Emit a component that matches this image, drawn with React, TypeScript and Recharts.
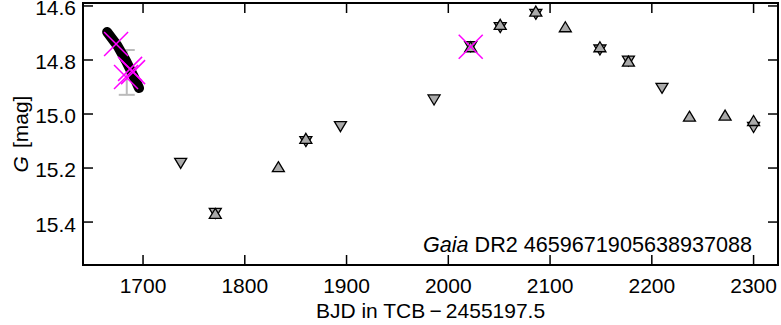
import { ScatterChart, Scatter, XAxis, YAxis, ErrorBar, ReferenceArea, Customized } from "recharts";

// BJD (TCB - 2455197.5) and G magnitude
const xTicks = [1700, 1800, 1900, 2000, 2100, 2200, 2300];
const yTicks = [14.6, 14.8, 15.0, 15.2, 15.4];

const downTriangles = [
  { t: 1737, g: 15.183 },
  { t: 1771, g: 15.368 },
  { t: 1860, g: 15.102 },
  { t: 1894, g: 15.047 },
  { t: 1986, g: 14.948 },
  { t: 2022, g: 14.751 },
  { t: 2051, g: 14.68 },
  { t: 2086, g: 14.631 },
  { t: 2149, g: 14.763 },
  { t: 2177, g: 14.804 },
  { t: 2210, g: 14.905 },
  { t: 2300, g: 15.05 },
];

const upTriangles = [
  { t: 1771, g: 15.368 },
  { t: 1833, g: 15.195 },
  { t: 1860, g: 15.09 },
  { t: 2022, g: 14.751 },
  { t: 2051, g: 14.668 },
  { t: 2086, g: 14.619 },
  { t: 2115, g: 14.677 },
  { t: 2149, g: 14.751 },
  { t: 2177, g: 14.804 },
  { t: 2237, g: 15.008 },
  { t: 2272, g: 15.004 },
  { t: 2300, g: 15.024 },
];

// dense epoch photometry at the start, drawn as a thick band
const epochBand = [
  { t: 1664.7, g: 14.696 },
  { t: 1674.5, g: 14.745 },
  { t: 1683.3, g: 14.804 },
  { t: 1690.2, g: 14.856 },
  { t: 1696.1, g: 14.904 },
];

const rejected = [
  { t: 1673.5, g: 14.741 },
  { t: 1687.3, g: 14.833 },
  { t: 1690.2, g: 14.845 },
  { t: 1683.3, g: 14.863 },
  { t: 2022, g: 14.751 },
];

const meanPoint = [{ t: 1684, g: 14.846, err: 0.083 }];

const xDomain = [1641, 2324];
const yDomain = [14.589, 15.559];
const FONT = 21;

// plot box (chart layout, not data)
const PLOT_TOP = 3;
const PLOT_BOTTOM = 265;
const PLOT_LEFT = 83;
const PLOT_RIGHT = 778;
const TICK = 10;

const TriUp = ({ cx, cy }: any) => (
  <path
    d={`M${cx},${cy - 5} L${cx + 6},${cy + 5} L${cx - 6},${cy + 5} Z`}
    fill="#aaaaaa"
    stroke="#000"
    strokeWidth={1.3}
  />
);

const TriDown = ({ cx, cy }: any) => (
  <path
    d={`M${cx},${cy + 5} L${cx + 6},${cy - 5} L${cx - 6},${cy - 5} Z`}
    fill="#aaaaaa"
    stroke="#000"
    strokeWidth={1.3}
  />
);

const Cross = ({ cx, cy }: any) => (
  <g stroke="#ff00ff" strokeWidth={1.5}>
    <line x1={cx - 12} y1={cy - 12} x2={cx + 12} y2={cy + 12} />
    <line x1={cx - 12} y1={cy + 12} x2={cx + 12} y2={cy - 12} />
  </g>
);

const Nothing = () => <g />;

// x tick: inward marks on bottom and top, label below
const XTick = ({ x, y, payload }: any) => (
  <g>
    <line x1={x} x2={x} y1={PLOT_BOTTOM} y2={PLOT_BOTTOM - TICK} stroke="#000" strokeWidth={1.5} />
    <line x1={x} x2={x} y1={PLOT_TOP} y2={PLOT_TOP + TICK} stroke="#000" strokeWidth={1.5} />
    <text x={x} y={y} dy="0.71em" textAnchor="middle" fill="#000" fontSize={FONT}>
      {payload.value}
    </text>
  </g>
);

// y tick: inward marks on left and right, label to the left
const YTick = ({ x, y, payload }: any) => (
  <g>
    <line x1={PLOT_LEFT} x2={PLOT_LEFT + TICK} y1={y} y2={y} stroke="#000" strokeWidth={1.5} />
    <line x1={PLOT_RIGHT - TICK} x2={PLOT_RIGHT} y1={y} y2={y} stroke="#000" strokeWidth={1.5} />
    <text x={x} y={y} dy="0.45em" textAnchor="end" fill="#000" fontSize={FONT}>
      {Number(payload.value).toFixed(1)}
    </text>
  </g>
);

const Labels = () => (
  <g fill="#000">
    <text x={20} y={134} transform="rotate(-90 20 134)" textAnchor="middle" dominantBaseline="central" fontSize={FONT}>
      <tspan fontStyle="italic">G</tspan>
      <tspan dx={8}>[mag]</tspan>
    </text>
    <text x={752} y={252} textAnchor="end" fontSize={21.6}>
      <tspan fontStyle="italic">Gaia</tspan>
      <tspan> DR2 4659671905638937088</tspan>
    </text>
  </g>
);

export default function App() {
  return (
    <div style={{ position: "absolute", left: 0, top: 0, fontFamily: "Liberation Sans, Arial, sans-serif" }}>
      <ScatterChart width={781} height={325} margin={{ top: PLOT_TOP, right: 781 - PLOT_RIGHT, bottom: 0, left: 0 }}>
        <XAxis
          dataKey="t"
          type="number"
          domain={xDomain}
          allowDataOverflow
          ticks={xTicks}
          interval={0}
          height={60}
          tickLine={false}
          tickSize={6}
          tickMargin={7}
          axisLine={false}
          tick={<XTick />}
          label={{ value: "BJD in TCB\u2009\u2212\u20092455197.5", position: "insideBottom", offset: 7, fill: "#000", fontSize: FONT }}
        />
        <YAxis
          dataKey="g"
          type="number"
          reversed
          domain={yDomain}
          allowDataOverflow
          ticks={yTicks}
          interval={0}
          width={PLOT_LEFT}
          tickLine={false}
          tickSize={5}
          tickMargin={2}
          axisLine={false}
          tick={<YTick />}
        />
        <ReferenceArea
          x1={xDomain[0]}
          x2={xDomain[1]}
          y1={yDomain[0]}
          y2={yDomain[1]}
          fill="none"
          fillOpacity={0}
          stroke="#000"
          strokeWidth={2}
          strokeOpacity={1}
          ifOverflow="visible"
        />
        <Scatter data={meanPoint} shape={Nothing} isAnimationActive={false}>
          <ErrorBar dataKey="err" direction="y" stroke="#bbbbbb" strokeWidth={2} width={8} />
        </Scatter>
        <Scatter
          data={epochBand}
          shape={Nothing}
          line={{ stroke: "#000", strokeWidth: 10, strokeLinecap: "round", strokeLinejoin: "round" }}
          isAnimationActive={false}
        />
        <Scatter data={downTriangles} shape={TriDown} isAnimationActive={false} />
        <Scatter data={upTriangles} shape={TriUp} isAnimationActive={false} />
        <Scatter data={rejected} shape={Cross} isAnimationActive={false} />
        <Customized component={<Labels />} />
      </ScatterChart>
    </div>
  );
}
